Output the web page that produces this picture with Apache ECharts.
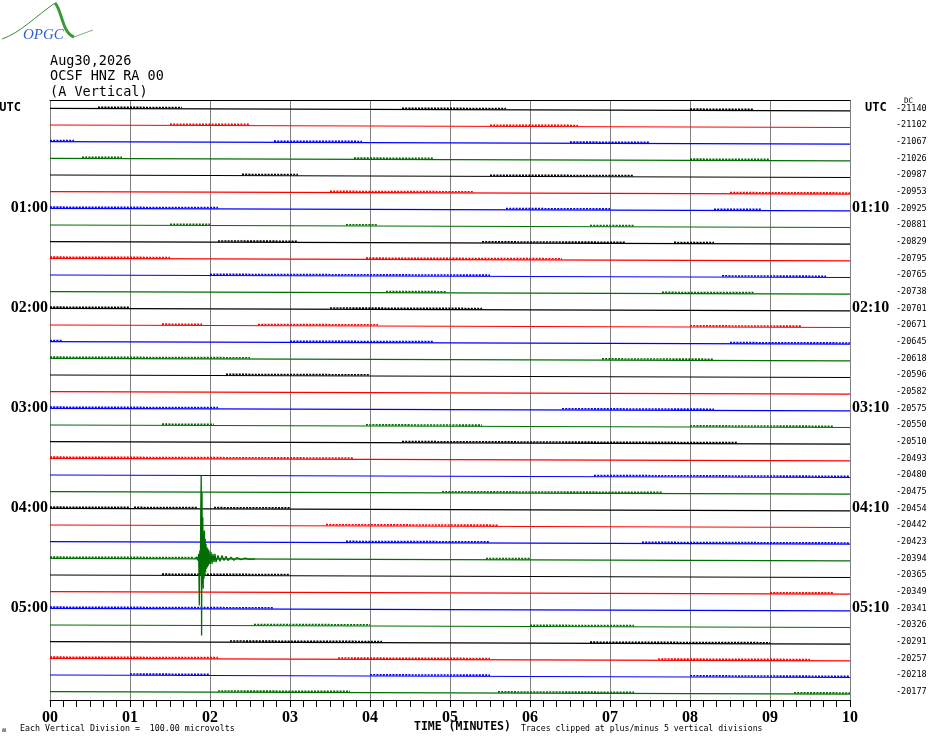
<!DOCTYPE html>
<html>
<head>
<meta charset="utf-8">
<script src="https://cdn.jsdelivr.net/npm/echarts@6/dist/echarts.min.js"></script>
<style>
html,body{margin:0;padding:0;background:#fff;}
#chart{width:930px;height:744px;}
</style>
</head>
<body>
<div id="chart"></div>
<script>
// ---- data ----
const minuteTicks = ['00','01','02','03','04','05','06','07','08','09','10'];
const leftTimeLabels = ['UTC','','','','','','01:00','','','','','','02:00','','','','','','03:00','','','','','','04:00','','','','','','05:00','','','','',''];
const rightTimeLabels = ['UTC','','','','','','01:10','','','','','','02:10','','','','','','03:10','','','','','','04:10','','','','','','05:10','','','','',''];
const dcLevels = ['-21140','-21102','-21067','-21026','-20987','-20953','-20925','-20881','-20829','-20795','-20765','-20738','-20701','-20671','-20645','-20618','-20596','-20582','-20575','-20550','-20510','-20493','-20480','-20475','-20454','-20442','-20423','-20394','-20365','-20349','-20341','-20326','-20291','-20257','-20218','-20177'];
const rowColors = ['#000000','#ff0000','#0000ff','#006e00'];
const traceDrift = 0.15; // rows of baseline drift over one 10-minute line
// noisy spans: [startMinute, endMinute, row]
const noisySpans = [
 [0.6,1.65,0],[4.4,5.7,0],[8.0,8.8,0],
 [1.5,2.5,1],[5.5,6.6,1],
 [0,0.3,2],[2.8,3.9,2],[6.5,7.5,2],
 [0.4,0.9,3],[3.8,4.8,3],[8.0,9.0,3],
 [2.4,3.1,4],[5.5,7.3,4],
 [3.5,5.3,5],[8.5,10,5],
 [0,2.1,6],[5.7,7.0,6],[8.3,8.9,6],
 [1.5,2.0,7],[3.7,4.1,7],[6.75,7.3,7],
 [2.1,3.1,8],[5.4,7.2,8],[7.8,8.3,8],
 [0,1.5,9],[3.95,6.4,9],
 [2.0,5.5,10],[8.4,9.7,10],
 [4.2,4.95,11],[7.65,8.8,11],
 [0,1.0,12],[3.5,5.4,12],
 [1.4,1.9,13],[2.6,4.1,13],[8.0,9.4,13],
 [0,0.15,14],[3.0,4.8,14],[8.5,10,14],
 [0,2.5,15],[6.9,8.3,15],
 [2.2,4.0,16],
 [0,2.1,18],[6.4,8.3,18],
 [1.4,2.05,19],[3.95,5.4,19],[8.0,9.8,19],
 [4.4,8.6,20],
 [0,3.8,21],
 [6.8,10,22],
 [4.9,7.65,23],
 [0,1.0,24],[1.05,1.85,24],[2.05,3.0,24],
 [3.45,5.6,25],
 [3.7,5.5,26],[7.4,10,26],
 [0,1.8,27],[5.45,6.0,27],
 [1.4,3.0,28],
 [9.0,9.8,29],
 [0,2.8,30],
 [2.55,4.0,31],[6.0,7.3,31],
 [2.25,4.15,32],[6.75,9.0,32],
 [0,2.1,33],[3.6,5.5,33],[7.6,9.5,33],
 [1.0,2.0,34],[4.0,5.5,34],[8.0,10,34],
 [2.1,3.75,35],[5.6,7.3,35],[9.3,10,35]
];
// earthquake on the 04:30 line (row 27): time in minutes, amplitude in divisions (negative = up)
const eventRow = 27;
const eventTimes = [1.80,1.825,1.8375,1.85,1.859,1.866,1.8725,1.879,1.885,1.89,1.895,1.90,1.905,1.91,1.915,1.92,1.925,1.93,1.935,1.94,1.945,1.95,1.956,1.9625,1.969,1.975,1.981,1.9875,2.0,2.0125,2.025,2.0375,2.05,2.0625,2.075,2.10,2.125,2.15,2.175,2.2,2.225,2.2625,2.30,2.3375,2.3875,2.4375,2.5,2.5625];
const eventAmps  = [0,0.05,-0.1,0.1,-0.3,2.8,-0.5,1.0,-3.0,-5.0,4.6,-4.0,1.5,-2.5,1.8,-1.6,1.2,-1.7,1.0,-1.2,0.8,-0.9,0.6,-0.7,0.5,-0.6,0.4,-0.5,0.3,-0.4,0.3,-0.3,0.2,-0.3,0.2,-0.2,0.15,-0.2,0.1,-0.15,0.1,-0.1,0.08,-0.08,0.05,-0.05,0.03,0];

// ---- chart ----
const chart = echarts.init(document.getElementById('chart'), null, {renderer:'canvas'});
const rowCount = dcLevels.length;
const series = [];
for (let r = 0; r < rowCount; r++) {
  series.push({
    type:'line', xAxisIndex:0, yAxisIndex:0, silent:true, animation:false,
    symbol:'none', z:3,
    lineStyle:{color:rowColors[r%4], width:1.2},
    data:[[0, r], [10, r + traceDrift]]
  });
}
series.push({
  type:'custom', xAxisIndex:0, yAxisIndex:0, silent:true, animation:false, z:4,
  encode:{x:[0,1], y:2},
  data: noisySpans,
  renderItem: function(params, api){
    const s = api.value(0), e = api.value(1), r = api.value(2);
    const p1 = api.coord([s, r + traceDrift*s/10]);
    const p2 = api.coord([e, r + traceDrift*e/10]);
    return {type:'line', shape:{x1:p1[0], y1:p1[1]-1.2, x2:p2[0], y2:p2[1]-1.2},
            style:{stroke:rowColors[r%4], lineWidth:1.6, lineDash:[2,1.2]}};
  }
});
series.push({
  type:'line', xAxisIndex:0, yAxisIndex:0, silent:true, animation:false, symbol:'none', z:5,
  lineStyle:{color:rowColors[eventRow%4], width:1.3},
  data: eventTimes.map((t,i)=>[t, eventRow + eventAmps[i] + traceDrift*t/10])
});

const monoFont = "'DejaVu Sans Mono', monospace";
const option = {
  backgroundColor:'#ffffff',
  animation:false,
  grid:{left:50, right:80, top:100, bottom:44, containLabel:false, outerBoundsMode:'none'},
  xAxis:[{
    type:'value', min:0, max:10, interval:1, position:'bottom',
    axisLine:{show:true, onZero:false, lineStyle:{color:'#000', width:1}},
    axisTick:{show:true, length:7, lineStyle:{color:'#000', width:1}},
    minorTick:{show:true, splitNumber:6, length:7, lineStyle:{color:'#000', width:1}},
    splitLine:{show:true, lineStyle:{color:'#808080', width:1}},
    axisLabel:{margin:10, color:'#000', fontFamily:"'Liberation Serif', serif", fontWeight:'bold', fontSize:16,
      formatter:(v)=>minuteTicks[Math.round(v)]}
  },{
    type:'value', min:0, max:10, position:'top',
    axisLine:{show:true, onZero:false, lineStyle:{color:'#000', width:1}},
    axisTick:{show:false}, minorTick:{show:false}, axisLabel:{show:false}, splitLine:{show:false}
  }],
  yAxis:[{
    type:'value', min:-0.5, max:rowCount-0.5, inverse:true, show:false
  },{
    type:'category', position:'left', inverse:true, data:leftTimeLabels,
    axisLine:{show:false}, axisTick:{show:false}, splitLine:{show:false},
    axisLabel:{interval:0, margin:2, align:'right', color:'#000',
      fontFamily:"'Liberation Serif', serif", fontWeight:'bold', fontSize:16,
      formatter:(v)=> v==='UTC' ? '{u|UTC}' : v,
      rich:{u:{fontFamily:monoFont, fontWeight:'bold', fontSize:12, color:'#000', padding:[0,27,0,0]}}}
  },{
    type:'category', position:'right', inverse:true, data:rightTimeLabels,
    axisLine:{show:false}, axisTick:{show:false}, splitLine:{show:false},
    axisLabel:{interval:0, margin:2, align:'left', color:'#000',
      fontFamily:"'Liberation Serif', serif", fontWeight:'bold', fontSize:16,
      formatter:(v)=> v==='UTC' ? '{u|UTC}' : v,
      rich:{u:{fontFamily:monoFont, fontWeight:'bold', fontSize:12, color:'#000', padding:[0,0,0,13]}}}
  },{
    type:'category', position:'right', offset:44, inverse:true, data:dcLevels,
    axisLine:{show:false}, axisTick:{show:false}, splitLine:{show:false},
    axisLabel:{interval:0, margin:2, align:'left', color:'#000', fontFamily:monoFont, fontSize:8.5}
  }],
  graphic:[
    {type:'bezierCurve', silent:true, shape:{x1:2,y1:39,cpx1:20,cpy1:33,cpx2:36,cpy2:16,x2:55,y2:3}, style:{fill:null, stroke:'#3a8a3a', lineWidth:1}},
    {type:'bezierCurve', silent:true, shape:{x1:55,y1:3,cpx1:62,cpy1:10,cpx2:62,cpy2:33,x2:74,y2:37}, style:{fill:null, stroke:'#3a9a3a', lineWidth:3}},
    {type:'line', silent:true, shape:{x1:74,y1:37,x2:93,y2:30}, style:{stroke:'#7ab07a', lineWidth:1}},
    {type:'text', silent:true, left:23, top:28, style:{text:'OPGC', fill:'#3060d0', font:"italic 15px 'Liberation Serif', serif"}},
    {type:'text', silent:true, left:50, top:54, style:{text:'Aug30,2026', fill:'#000', font:"13.5px "+monoFont}},
    {type:'text', silent:true, left:50, top:69, style:{text:'OCSF HNZ RA 00', fill:'#000', font:"13.5px "+monoFont}},
    {type:'text', silent:true, left:50, top:85, style:{text:'(A Vertical)', fill:'#000', font:"13.5px "+monoFont}},
    {type:'text', silent:true, left:904, top:97, style:{text:'DC', fill:'#000', font:"7.5px "+monoFont}},
    {type:'text', silent:true, left:2, top:727, style:{text:'ʍ', fill:'#000', font:"7px "+monoFont}},
    {type:'text', silent:true, left:20, top:725, style:{text:'Each Vertical Division =  100.00 microvolts', fill:'#000', font:"8.3px "+monoFont}},
    {type:'text', silent:true, left:414, top:721, style:{text:'TIME (MINUTES)', fill:'#000', font:"bold 11.5px "+monoFont}},
    {type:'text', silent:true, left:521, top:725, style:{text:'Traces clipped at plus/minus 5 vertical divisions', fill:'#000', font:"8.2px "+monoFont}}
  ],
  series: series
};
chart.setOption(option);
</script>
</body>
</html>
